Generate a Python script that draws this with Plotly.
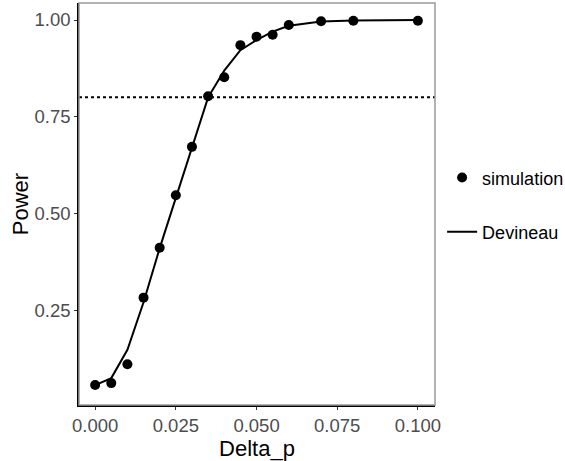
import plotly.graph_objects as go

delta_p = [0.0, 0.005, 0.01, 0.015, 0.02, 0.025, 0.03, 0.035, 0.04, 0.045, 0.05, 0.055, 0.06, 0.07, 0.08, 0.1]
power_sim = [0.056, 0.061, 0.110, 0.282, 0.411, 0.547, 0.672, 0.803, 0.852, 0.935, 0.957, 0.962, 0.987, 0.997, 0.998, 0.998]
power_dev = [0.056, 0.074, 0.147, 0.270, 0.410, 0.540, 0.670, 0.800, 0.869, 0.922, 0.948, 0.970, 0.985, 0.996, 0.999, 1.000]
target_power = 0.8
x_ticks = [0.0, 0.025, 0.05, 0.075, 0.1]
x_tick_labels = ["0.000", "0.025", "0.050", "0.075", "0.100"]
y_ticks = [0.25, 0.5, 0.75, 1.0]
y_tick_labels = ["0.25", "0.50", "0.75", "1.00"]

font_family = "Liberation Sans, Arial, sans-serif"

fig = go.Figure()
fig.add_trace(go.Scatter(
    x=delta_p, y=power_dev, mode="lines", name="Devineau", showlegend=True,
    line=dict(color="black", width=2), legend="legend2"))
fig.add_trace(go.Scatter(
    x=delta_p, y=power_sim, mode="markers", name="simulation", showlegend=True,
    marker=dict(color="black", size=10), legend="legend"))

fig.add_shape(type="line", xref="paper", x0=0, x1=1, yref="y", y0=target_power, y1=target_power,
              line=dict(color="black", width=2, dash="dot"))
fig.add_shape(type="rect", xref="paper", yref="paper", x0=0, x1=1, y0=0, y1=1,
              line=dict(color="#999999", width=1.5), layer="above")

axis_common = dict(showgrid=False, zeroline=False, ticks="outside", ticklen=3, tickwidth=1,
                   tickcolor="#333333", showline=True, linecolor="black", linewidth=1.5,
                   automargin=False,
                   tickfont=dict(size=18.5, color="#4d4d4d", family=font_family))

fig.update_xaxes(range=[-0.005, 0.1053], tickvals=x_ticks, ticktext=x_tick_labels,
                 title=dict(text="Delta_p", font=dict(size=22, color="black", family=font_family), standoff=0),
                 **axis_common)
fig.update_yaxes(range=[0.0044, 1.044], tickvals=y_ticks, ticktext=y_tick_labels,
                 title=dict(text="Power", font=dict(size=22, color="black", family=font_family), standoff=0),
                 **axis_common)

legend_font = dict(size=18, color="black", family=font_family)
fig.update_layout(
    width=565, height=461,
    margin=dict(l=79, r=130, t=3, b=56, autoexpand=False),
    plot_bgcolor="white", paper_bgcolor="white",
    font=dict(family=font_family),
    showlegend=True,
    legend=dict(x=1.02, y=0.565, xanchor="left", yanchor="middle", font=legend_font,
                bgcolor="rgba(0,0,0,0)", itemwidth=30),
    legend2=dict(x=1.02, y=0.43, xanchor="left", yanchor="middle", font=legend_font,
                 bgcolor="rgba(0,0,0,0)", itemwidth=30),
)

fig.write_html("out.html", config={"displayModeBar": False},
               post_script="document.body.style.margin='0';")
